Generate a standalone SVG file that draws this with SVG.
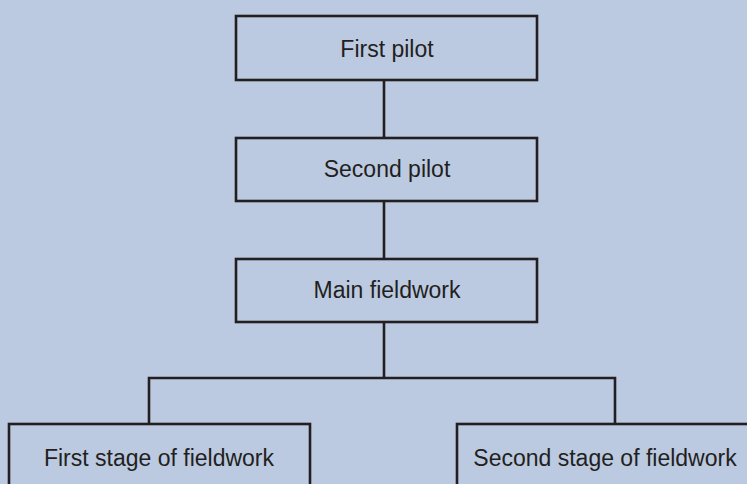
<svg xmlns="http://www.w3.org/2000/svg" width="747" height="484" viewBox="0 0 747 484">
  <style>
    .box { fill: #bbcae1; stroke: #231f20; stroke-width: 2.6; }
    .lbl { font-family: "Liberation Sans", Arial, sans-serif; font-size: 23px; fill: #231f20; text-anchor: middle; }
    .conn { fill: none; stroke: #231f20; stroke-width: 2.6; }
  </style>
  <rect x="0" y="0" width="747" height="484" fill="#bbcae1"/>
  <g id="connectors">
    <line class="conn" x1="384" y1="80" x2="384" y2="138"/>
    <line class="conn" x1="384" y1="201" x2="384" y2="259"/>
    <line class="conn" x1="384" y1="322" x2="384" y2="378"/>
    <polyline class="conn" points="149,424 149,378 615,378 615,424"/>
  </g>
  <g id="first-pilot">
    <rect class="box" x="236" y="16" width="301" height="64"/>
    <text class="lbl" x="387" y="56.5">First pilot</text>
  </g>
  <g id="second-pilot">
    <rect class="box" x="236" y="138" width="301" height="63"/>
    <text class="lbl" x="387" y="177">Second pilot</text>
  </g>
  <g id="main-fieldwork">
    <rect class="box" x="236" y="259" width="301" height="63"/>
    <text class="lbl" x="387" y="298">Main fieldwork</text>
  </g>
  <g id="first-stage">
    <rect class="box" x="9" y="424" width="301" height="70"/>
    <text class="lbl" x="159" y="466">First stage of fieldwork</text>
  </g>
  <g id="second-stage">
    <rect class="box" x="457" y="424" width="301" height="70"/>
    <text class="lbl" x="605" y="466">Second stage of fieldwork</text>
  </g>
</svg>
